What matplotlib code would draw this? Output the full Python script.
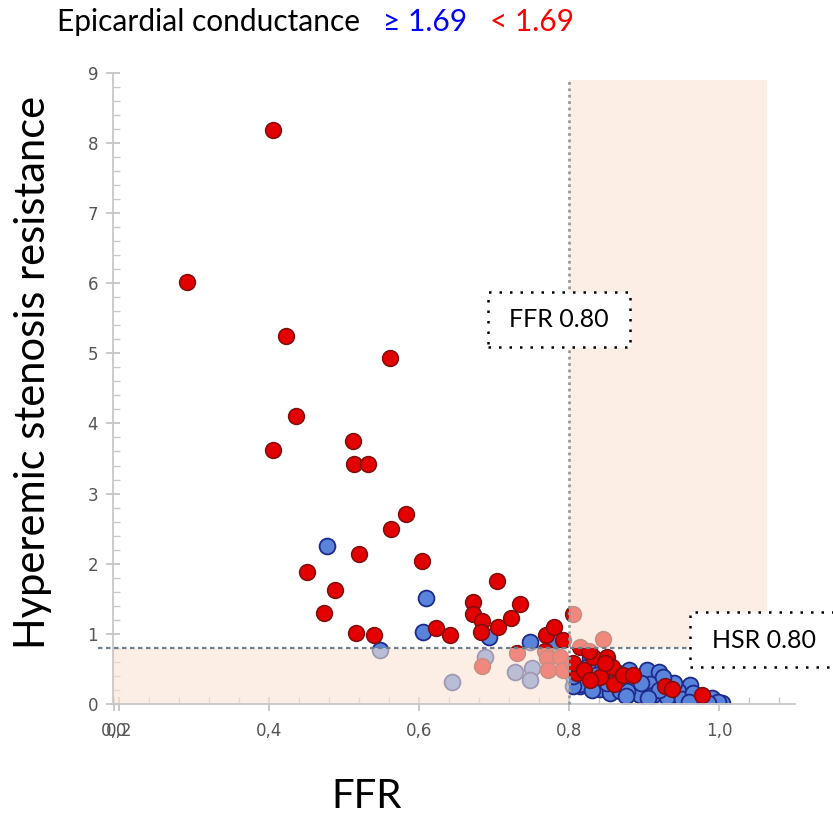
"""Hyperemic stenosis resistance vs FFR, split by epicardial conductance."""
import matplotlib
matplotlib.use("Agg")
import matplotlib.pyplot as plt
import matplotlib.ticker as mticker
from matplotlib.patches import Rectangle

W, H = 833, 815
FFR_CUT = 0.80
HSR_CUT = 0.80

# epicardial conductance < 1.69 (red)
red_ffr = [0.405, 0.290, 0.422, 0.561, 0.436, 0.405, 0.512, 0.513, 0.532,
           0.582, 0.562, 0.519, 0.603, 0.450, 0.487, 0.473, 0.704,
           0.515, 0.540, 0.622, 0.641, 0.671, 0.672, 0.684, 0.682, 0.705,
           0.722, 0.734, 0.769, 0.780, 0.792, 0.805, 0.845,
           0.683, 0.730, 0.768, 0.770, 0.772, 0.788, 0.792,
           0.814, 0.810, 0.805, 0.819, 0.832, 0.850, 0.857, 0.841, 0.828,
           0.859, 0.872, 0.885, 0.928, 0.937, 0.977, 0.826, 0.847]
red_hsr = [8.19, 6.02, 5.25, 4.93, 4.11, 3.62, 3.75, 3.42, 3.42,
           2.71, 2.50, 2.14, 2.04, 1.88, 1.63, 1.30, 1.76,
           1.01, 0.99, 1.08, 0.99, 1.46, 1.29, 1.19, 1.03, 1.10,
           1.22, 1.42, 0.98, 1.10, 0.91, 1.28, 0.93,
           0.54, 0.72, 0.75, 0.66, 0.48, 0.67, 0.48,
           0.81, 0.44, 0.58, 0.48, 0.67, 0.67, 0.53, 0.39, 0.34,
           0.29, 0.41, 0.41, 0.25, 0.22, 0.13, 0.76, 0.58]

# epicardial conductance >= 1.69 (blue)
blue_ffr = [0.477, 0.609, 0.605, 0.693, 0.748, 0.780,
            0.548, 0.644, 0.688, 0.728, 0.750, 0.748,
            0.828, 0.814, 0.841, 0.841, 0.854, 0.879, 0.903, 0.919, 0.890,
            0.868, 0.908, 0.912, 0.939, 0.961, 0.957, 0.992, 1.003, 0.983,
            0.970, 0.930, 0.894, 0.877, 0.814, 0.805, 0.824, 0.805, 0.830,
            0.850, 0.865, 0.895, 0.920, 0.945, 0.950, 0.965, 0.975, 0.990,
            0.998, 0.985, 0.940, 0.925, 0.862, 0.835, 0.875, 0.905, 0.960]
blue_hsr = [2.25, 1.51, 1.02, 0.95, 0.89, 0.90,
            0.77, 0.32, 0.67, 0.45, 0.51, 0.34,
            0.65, 0.25, 0.53, 0.22, 0.15, 0.48, 0.48, 0.46, 0.15,
            0.18, 0.29, 0.13, 0.13, 0.27, 0.10, 0.01, 0.01, 0.06,
            0.08, 0.10, 0.13, 0.18, 0.29, 0.25, 0.53, 0.40, 0.20,
            0.30, 0.35, 0.30, 0.20, 0.18, 0.07, 0.15, 0.04, 0.08,
            0.03, 0.02, 0.30, 0.38, 0.45, 0.42, 0.12, 0.08, 0.03]

x_ticks = [0.193, 0.2, 0.4, 0.6, 0.8, 1.0]
x_tick_labels = ["0,0", "0,2", "0,4", "0,6", "0,8", "1,0"]
y_ticks = list(range(0, 10))

SANS = ["Lato", "DejaVu Sans"]


def fx(px):
    return px / W


def fy(py):
    return 1 - py / H


fig = plt.figure(figsize=(W / 100, H / 100), dpi=100)
ax = fig.add_axes([fx(113.3), fy(704), fx(795) - fx(113.3), fy(72.7) - fy(704)])
ax.set_xlim(0.192, 1.101)
ax.set_ylim(0, 9)

ax.scatter(blue_ffr, blue_hsr, s=130, c="#5a84dc", edgecolors="#1c2a8a",
           linewidths=1.3, zorder=2)
ax.scatter(red_ffr, red_hsr, s=130, c="#e20000", edgecolors="#7e0f0f",
           linewidths=1.1, zorder=2.1)

# beige zones drawn over the points so those inside look faded
band = dict(facecolor=(250 / 255, 228 / 255, 210 / 255), alpha=0.6,
            edgecolor="none", zorder=3)
ax.add_patch(Rectangle((FFR_CUT, HSR_CUT), 1.064 - FFR_CUT, 8.89 - HSR_CUT, **band))
ax.add_patch(Rectangle((0.192, 0), FFR_CUT - 0.192, HSR_CUT, **band))

ax.plot([FFR_CUT, FFR_CUT], [0, 8.92], color="#9a9a9a", lw=2,
        ls=(0, (1, 1.3)), zorder=6, clip_on=False)
ax.plot([0.172, 0.961], [HSR_CUT, HSR_CUT], color="#6f7f8c", lw=1.6,
        ls=(0, (2, 1.6)), zorder=6, clip_on=False)

for side in ("top", "right"):
    ax.spines[side].set_visible(False)
for side in ("left", "bottom"):
    ax.spines[side].set_color("#c8c8c8")
    ax.spines[side].set_linewidth(1.3)
    ax.spines[side].set_zorder(5)

ax.set_xticks(x_ticks)
ax.set_xticklabels(x_tick_labels)
ax.xaxis.set_minor_locator(mticker.MultipleLocator(0.04))
ax.set_yticks(y_ticks)
ax.yaxis.set_minor_locator(mticker.MultipleLocator(0.2))
ax.tick_params(which="major", direction="inout", length=10, width=1.2,
               color="#c0c0c0", labelcolor="#555555", labelsize=12, pad=8)
ax.tick_params(which="minor", direction="in", length=5, width=1,
               color="#c8c8c8")
ax.tick_params(axis="y", which="major", pad=6)

# title legend
fig.text(fx(57), fy(22), "Epicardial conductance", fontsize=21.5,
         family=SANS, color="black", ha="left", va="center")
fig.text(fx(383), fy(22), "\u2265 1.69", fontsize=21.5, family=SANS,
         color="#0000ff", ha="left", va="center")
fig.text(fx(490), fy(22), "< 1.69", fontsize=21.5, family=SANS,
         color="#ff0000", ha="left", va="center")

fig.text(fx(33), fy(372), "Hyperemic stenosis resistance", fontsize=30,
         family=SANS, rotation=90, ha="center", va="center")
fig.text(fx(367), fy(797), "FFR", fontsize=29, family=SANS,
         ha="center", va="center")

# dotted label boxes
box = dict(facecolor="white", edgecolor="black", lw=1.8, ls=(0, (1, 3.2)),
           transform=fig.transFigure, zorder=7)
fig.add_artist(Rectangle((fx(487.7), fy(347.3)), fx(142.3), 55 / H, **box))
fig.text(fx(559), fy(320), "FFR 0.80", fontsize=18, family=SANS,
         ha="center", va="center", zorder=8)
fig.add_artist(Rectangle((fx(690), fy(667.3)), fx(160), 55.6 / H,
                         clip_on=False, **box))
fig.text(fx(764), fy(640), "HSR 0.80", fontsize=18, family=SANS,
         ha="center", va="center", zorder=8)

fig.savefig("out.png", dpi=100)
